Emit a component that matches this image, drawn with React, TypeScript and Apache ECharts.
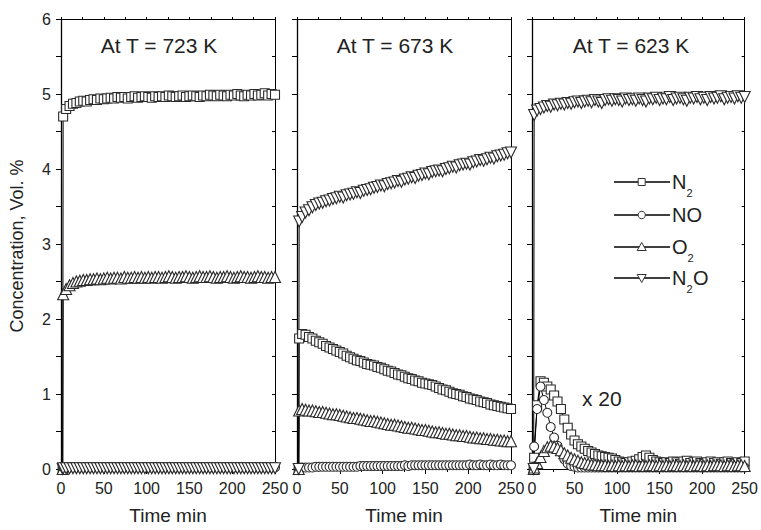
import React, { useEffect, useRef } from "react";
import * as echarts from "echarts";

const FONT = "'Liberation Sans', Arial, Helvetica, sans-serif";

// time axis (min), shared by all series
const T = [
  2, 2.5, 6, 10, 14, 18, 22, 26,
  30, 34, 38, 42, 46, 50, 54, 58,
  62, 66, 70, 74, 78, 82, 86, 90,
  94, 98, 102, 106, 110, 114, 118, 122,
  126, 130, 134, 138, 142, 146, 150, 154,
  158, 162, 166, 170, 174, 178, 182, 186,
  190, 194, 198, 202, 206, 210, 214, 218,
  222, 226, 230, 234, 238, 242, 246, 250,
];

const xTicks = [0, 50, 100, 150, 200, 250];
const yTicks = [0, 1, 2, 3, 4, 5, 6];
const panelTitles = ["At T = 723 K", "At T = 673 K", "At T = 623 K"];

// ---- 723 K ----
const n2_723 = [
  0, 4.70, 4.80, 4.84, 4.87, 4.88, 4.90, 4.91,
  4.90, 4.92, 4.93, 4.92, 4.94, 4.93, 4.94, 4.95,
  4.94, 4.96, 4.95, 4.96, 4.94, 4.96, 4.97, 4.95,
  4.96, 4.97, 4.96, 4.95, 4.97, 4.96, 4.97, 4.96,
  4.98, 4.97, 4.96, 4.97, 4.98, 4.96, 4.97, 4.98,
  4.97, 4.96, 4.98, 4.97, 4.99, 4.98, 4.97, 4.99,
  4.98, 4.97, 4.99, 4.98, 5.00, 4.98, 4.97, 4.99,
  4.98, 5.00, 4.98, 4.99, 5.01, 4.98, 5.00, 4.99,
];
const no_723 = [
  0, 0.02, 0.02, 0.02, 0.02, 0.02, 0.02, 0.02,
  0.02, 0.02, 0.02, 0.02, 0.02, 0.02, 0.02, 0.02,
  0.02, 0.02, 0.02, 0.02, 0.02, 0.02, 0.02, 0.02,
  0.02, 0.02, 0.02, 0.02, 0.02, 0.02, 0.02, 0.02,
  0.02, 0.02, 0.02, 0.02, 0.02, 0.02, 0.02, 0.02,
  0.02, 0.02, 0.02, 0.02, 0.02, 0.02, 0.02, 0.02,
  0.02, 0.02, 0.02, 0.02, 0.02, 0.02, 0.02, 0.02,
  0.02, 0.02, 0.02, 0.02, 0.02, 0.02, 0.02, 0.02,
];
const o2_723 = [
  0, 2.33, 2.40, 2.45, 2.48, 2.50, 2.51, 2.52,
  2.52, 2.53, 2.53, 2.54, 2.53, 2.54, 2.55, 2.54,
  2.55, 2.55, 2.54, 2.56, 2.55, 2.55, 2.56, 2.55,
  2.56, 2.55, 2.56, 2.55, 2.56, 2.56, 2.55, 2.56,
  2.57, 2.56, 2.55, 2.56, 2.56, 2.57, 2.56, 2.55,
  2.56, 2.57, 2.56, 2.56, 2.57, 2.56, 2.55, 2.56,
  2.56, 2.57, 2.56, 2.55, 2.56, 2.57, 2.56, 2.56,
  2.55, 2.56, 2.57, 2.56, 2.56, 2.55, 2.56, 2.56,
];
const n2o_723 = [
  0, 0.01, 0.01, 0.01, 0.01, 0.01, 0.01, 0.01,
  0.01, 0.01, 0.01, 0.01, 0.01, 0.01, 0.01, 0.01,
  0.01, 0.01, 0.01, 0.01, 0.01, 0.01, 0.01, 0.01,
  0.01, 0.01, 0.01, 0.01, 0.01, 0.01, 0.01, 0.01,
  0.01, 0.01, 0.01, 0.01, 0.01, 0.01, 0.01, 0.01,
  0.01, 0.01, 0.01, 0.01, 0.01, 0.01, 0.01, 0.01,
  0.01, 0.01, 0.01, 0.01, 0.01, 0.01, 0.01, 0.01,
  0.01, 0.01, 0.01, 0.01, 0.01, 0.01, 0.01, 0.01,
];

// ---- 673 K ----
const n2_673 = [
  0, 1.74, 1.80, 1.79, 1.76, 1.74, 1.71, 1.69,
  1.67, 1.64, 1.62, 1.60, 1.58, 1.56, 1.54, 1.51,
  1.49, 1.47, 1.45, 1.44, 1.42, 1.40, 1.39, 1.38,
  1.36, 1.35, 1.33, 1.31, 1.30, 1.28, 1.26, 1.25,
  1.23, 1.21, 1.20, 1.18, 1.17, 1.15, 1.14, 1.13,
  1.12, 1.10, 1.08, 1.06, 1.05, 1.03, 1.01, 1.00,
  0.99, 0.97, 0.96, 0.94, 0.93, 0.92, 0.90, 0.89,
  0.88, 0.86, 0.85, 0.84, 0.83, 0.82, 0.81, 0.80,
];
const no_673 = [
  0, 0.02, 0.02, 0.02, 0.02, 0.02, 0.03, 0.03,
  0.03, 0.03, 0.03, 0.03, 0.03, 0.03, 0.03, 0.03,
  0.03, 0.03, 0.03, 0.04, 0.04, 0.04, 0.04, 0.04,
  0.04, 0.04, 0.04, 0.04, 0.04, 0.04, 0.04, 0.04,
  0.05, 0.04, 0.05, 0.05, 0.05, 0.05, 0.05, 0.05,
  0.05, 0.05, 0.05, 0.05, 0.05, 0.05, 0.05, 0.05,
  0.05, 0.05, 0.05, 0.06, 0.05, 0.05, 0.06, 0.05,
  0.05, 0.06, 0.05, 0.05, 0.06, 0.05, 0.05, 0.05,
];
const o2_673 = [
  0, 0.78, 0.80, 0.79, 0.78, 0.78, 0.77, 0.76,
  0.76, 0.75, 0.74, 0.73, 0.73, 0.72, 0.71, 0.70,
  0.69, 0.68, 0.68, 0.67, 0.66, 0.65, 0.64, 0.64,
  0.63, 0.62, 0.61, 0.60, 0.59, 0.59, 0.58, 0.57,
  0.56, 0.55, 0.55, 0.54, 0.53, 0.52, 0.52, 0.51,
  0.50, 0.49, 0.49, 0.48, 0.47, 0.47, 0.46, 0.45,
  0.45, 0.44, 0.44, 0.43, 0.42, 0.42, 0.41, 0.41,
  0.40, 0.40, 0.39, 0.39, 0.38, 0.38, 0.37, 0.37,
];
const n2o_673 = [
  0, 3.30, 3.36, 3.42, 3.45, 3.49, 3.52, 3.54,
  3.55, 3.57, 3.58, 3.60, 3.61, 3.63, 3.62, 3.65,
  3.66, 3.67, 3.69, 3.68, 3.71, 3.72, 3.73, 3.75,
  3.76, 3.78, 3.77, 3.80, 3.81, 3.82, 3.84, 3.83,
  3.86, 3.87, 3.89, 3.88, 3.91, 3.92, 3.94, 3.93,
  3.96, 3.97, 3.98, 3.97, 4.00, 4.01, 4.03, 4.02,
  4.05, 4.06, 4.07, 4.06, 4.09, 4.10, 4.12, 4.11,
  4.13, 4.15, 4.14, 4.17, 4.18, 4.19, 4.21, 4.22,
];

// ---- 623 K (N2, NO, O2 shown x 20) ----
const n2_623 = [
  0, 0.15, 0.85, 1.17, 1.15, 1.10, 1.06, 0.98,
  0.90, 0.80, 0.66, 0.55, 0.46, 0.38, 0.33, 0.30,
  0.27, 0.24, 0.22, 0.20, 0.18, 0.17, 0.16, 0.15,
  0.14, 0.12, 0.10, 0.09, 0.08, 0.09, 0.10, 0.11,
  0.13, 0.16, 0.18, 0.15, 0.12, 0.10, 0.09, 0.08,
  0.09, 0.08, 0.10, 0.09, 0.07, 0.10, 0.11, 0.08,
  0.09, 0.10, 0.08, 0.07, 0.09, 0.10, 0.08, 0.09,
  0.07, 0.09, 0.10, 0.08, 0.07, 0.09, 0.08, 0.10,
];
const no_623 = [
  0, 0.30, 0.80, 1.10, 0.92, 0.75, 0.56, 0.42,
  0.31, 0.22, 0.13, 0.07, 0.04, 0.03, 0.02, 0.02,
  0.02, 0.02, 0.02, 0.02, 0.02, 0.02, 0.02, 0.02,
  0.02, 0.02, 0.02, 0.02, 0.02, 0.02, 0.02, 0.02,
  0.02, 0.02, 0.02, 0.02, 0.02, 0.02, 0.02, 0.02,
  0.02, 0.02, 0.02, 0.02, 0.02, 0.02, 0.02, 0.02,
  0.02, 0.02, 0.02, 0.02, 0.02, 0.02, 0.02, 0.02,
  0.02, 0.02, 0.02, 0.02, 0.02, 0.02, 0.02, 0.02,
];
const o2_623 = [
  0, 0.02, 0.08, 0.16, 0.24, 0.29, 0.31, 0.30,
  0.28, 0.25, 0.21, 0.18, 0.15, 0.13, 0.11, 0.09,
  0.08, 0.07, 0.06, 0.06, 0.05, 0.05, 0.05, 0.04,
  0.05, 0.04, 0.05, 0.04, 0.05, 0.04, 0.05, 0.05,
  0.04, 0.05, 0.04, 0.05, 0.05, 0.04, 0.05, 0.04,
  0.05, 0.04, 0.05, 0.05, 0.04, 0.05, 0.04, 0.05,
  0.04, 0.05, 0.05, 0.04, 0.05, 0.04, 0.05, 0.05,
  0.05, 0.04, 0.05, 0.05, 0.04, 0.05, 0.05, 0.04,
];
const n2o_623 = [
  0, 4.72, 4.78, 4.80, 4.82, 4.84, 4.83, 4.86,
  4.85, 4.87, 4.86, 4.88, 4.87, 4.89, 4.90, 4.88,
  4.90, 4.91, 4.89, 4.92, 4.90, 4.88, 4.92, 4.93,
  4.91, 4.93, 4.92, 4.90, 4.94, 4.92, 4.93, 4.91,
  4.94, 4.92, 4.90, 4.94, 4.93, 4.95, 4.92, 4.94,
  4.93, 4.96, 4.92, 4.94, 4.95, 4.93, 4.91, 4.95,
  4.94, 4.96, 4.93, 4.95, 4.92, 4.96, 4.94, 4.95,
  4.97, 4.93, 4.95, 4.96, 4.94, 4.97, 4.95, 4.96,
];

const panels = [
  { n2: n2_723, no: no_723, o2: o2_723, n2o: n2o_723 },
  { n2: n2_673, no: no_673, o2: o2_673, n2o: n2o_673 },
  { n2: n2_623, no: no_623, o2: o2_623, n2o: n2o_623 },
];

const GRIDS = [
  { left: 61, top: 19, width: 214, height: 454 },
  { left: 297, top: 19, width: 214, height: 454 },
  { left: 532, top: 19, width: 215, height: 454 },
];

const TITLE_X = [159, 395, 631];

function mkSeries(name: string, symbol: string, vals: number[], p: number, size: number, rotate = 0) {
  return {
    type: "line",
    name,
    xAxisIndex: p * 2,
    yAxisIndex: p * 2,
    data: T.map((t, i) => [t, vals[i]]),
    symbol,
    symbolSize: size,
    symbolRotate: rotate,
    showAllSymbol: true,
    clip: false,
    lineStyle: { color: "#000", width: 1 },
    itemStyle: { color: "#fff", borderColor: "#2a2a2a", borderWidth: 1.1 },
    emphasis: { disabled: true },
  };
}

export default function App() {
  const ref = useRef<HTMLDivElement>(null);
  useEffect(() => {
    if (!ref.current) return;
    const chart = echarts.init(ref.current, null, { renderer: "svg" });
    const black = "#000";
    const xAxis: any[] = [];
    const yAxis: any[] = [];
    GRIDS.forEach((_, p) => {
      xAxis.push({
        type: "value", gridIndex: p, min: 0, max: 250, interval: 50, position: "bottom",
        axisLine: { show: true, onZero: false, lineStyle: { color: black, width: 1 } },
        axisTick: { show: true, inside: false, length: 5, lineStyle: { color: black } },
        minorTick: { show: true, splitNumber: 2, length: 3, lineStyle: { color: black } },
        splitLine: { show: false },
        axisLabel: { fontSize: 16, color: "#222", margin: 11, fontFamily: FONT,
          formatter: (v: number) => (xTicks.includes(v) ? String(v) : "") },
        name: "Time min", nameLocation: "middle", nameGap: 37,
        nameTextStyle: { fontSize: 19, color: "#222", fontFamily: FONT },
      });
      xAxis.push({
        type: "value", gridIndex: p, min: 0, max: 250, interval: 25, position: "top",
        axisLine: { show: true, onZero: false, lineStyle: { color: black, width: 1 } },
        axisTick: { show: true, inside: false, length: 2, lineStyle: { color: black } },
        axisLabel: { show: false }, splitLine: { show: false },
      });
      yAxis.push({
        type: "value", gridIndex: p, min: 0, max: 6, interval: 1, position: "left",
        axisLine: { show: true, onZero: false, lineStyle: { color: black, width: 1.3 } },
        axisTick: { show: true, inside: false, length: 5, lineStyle: { color: black } },
        minorTick: { show: true, splitNumber: 2, length: 5, lineStyle: { color: black } },
        splitLine: { show: false },
        axisLabel: { show: p === 0, fontSize: 16, color: "#222", margin: 10, fontFamily: FONT,
          formatter: (v: number) => (yTicks.includes(v) ? String(v) : "") },
      });
      yAxis.push({
        type: "value", gridIndex: p, min: 0, max: 6, interval: 1, position: "right",
        axisLine: { show: true, onZero: false, lineStyle: { color: black, width: 1 } },
        axisTick: { show: true, inside: true, length: 3, lineStyle: { color: black } },
        minorTick: { show: true, splitNumber: 2, length: 3, lineStyle: { color: black } },
        splitLine: { show: false }, axisLabel: { show: false },
      });
    });

    const series: any[] = [];
    panels.forEach((d, p) => {
      series.push(mkSeries("N2", "rect", d.n2, p, 9));
      series.push(mkSeries("NO", "circle", d.no, p, 9));
      series.push(mkSeries("O2", "triangle", d.o2, p, 11));
      series.push(mkSeries("N2O", "triangle", d.n2o, p, 11, 180));
    });

    const txt = (text: string, x: number, y: number, size: number, extra: any = {}) => ({
      type: "text", x, y, silent: true, ...extra,
      style: { text, fontSize: size, fontFamily: FONT, fill: "#222",
        textAlign: extra.align || "left", textVerticalAlign: "middle" },
    });

    const graphic: any[] = [];
    panelTitles.forEach((t, i) => graphic.push(txt(t, TITLE_X[i], 45, 21, { align: "center" })));
    graphic.push(txt("x 20", 582, 398, 21));
    graphic.push({
      type: "text", x: 17, y: 246, rotation: Math.PI / 2, silent: true,
      style: { text: "Concentration, Vol. %", fontSize: 18, fontFamily: FONT, fill: "#222",
        textAlign: "center", textVerticalAlign: "middle" },
    });

    // legend
    const LX1 = 614, LX2 = 670, SX = 641.7, TX = 672;
    const rows = [182, 215, 247, 278];
    rows.forEach((y) => {
      graphic.push({ type: "line", silent: true, shape: { x1: LX1, y1: y, x2: LX2, y2: y },
        style: { stroke: "#000", lineWidth: 1.4 } });
    });
    const symStyle = { fill: "#fff", stroke: "#333", lineWidth: 1 };
    graphic.push({ type: "rect", silent: true, shape: { x: SX - 3.5, y: rows[0] - 3.5, width: 7, height: 7 }, style: symStyle });
    graphic.push({ type: "circle", silent: true, shape: { cx: SX, cy: rows[1], r: 3.7 }, style: symStyle });
    graphic.push({ type: "polygon", silent: true, shape: { points: [[SX, rows[2] - 4.5], [SX + 4.5, rows[2] + 3.5], [SX - 4.5, rows[2] + 3.5]] }, style: symStyle });
    graphic.push({ type: "polygon", silent: true, shape: { points: [[SX - 4.5, rows[3] - 3.5], [SX + 4.5, rows[3] - 3.5], [SX, rows[3] + 4.5]] }, style: symStyle });
    const LF = 20, SF = 11;
    graphic.push(txt("N", TX, rows[0], LF));
    graphic.push(txt("2", TX + 14.5, rows[0] + 11, SF));
    graphic.push(txt("NO", TX, rows[1], LF));
    graphic.push(txt("O", TX, rows[2], LF));
    graphic.push(txt("2", TX + 15.5, rows[2] + 11, SF));
    graphic.push(txt("N", TX, rows[3], LF));
    graphic.push(txt("2", TX + 14.5, rows[3] + 11, SF));
    graphic.push(txt("O", TX + 21, rows[3], LF));

    chart.setOption({
      animation: false,
      backgroundColor: "#fff",
      grid: GRIDS.map((g) => ({ ...g, containLabel: false })),
      xAxis,
      yAxis,
      series,
      graphic,
    });
    return () => chart.dispose();
  }, []);
  return <div ref={ref} style={{ position: "fixed", left: 0, top: 0, width: 761, height: 530 }} />;
}
